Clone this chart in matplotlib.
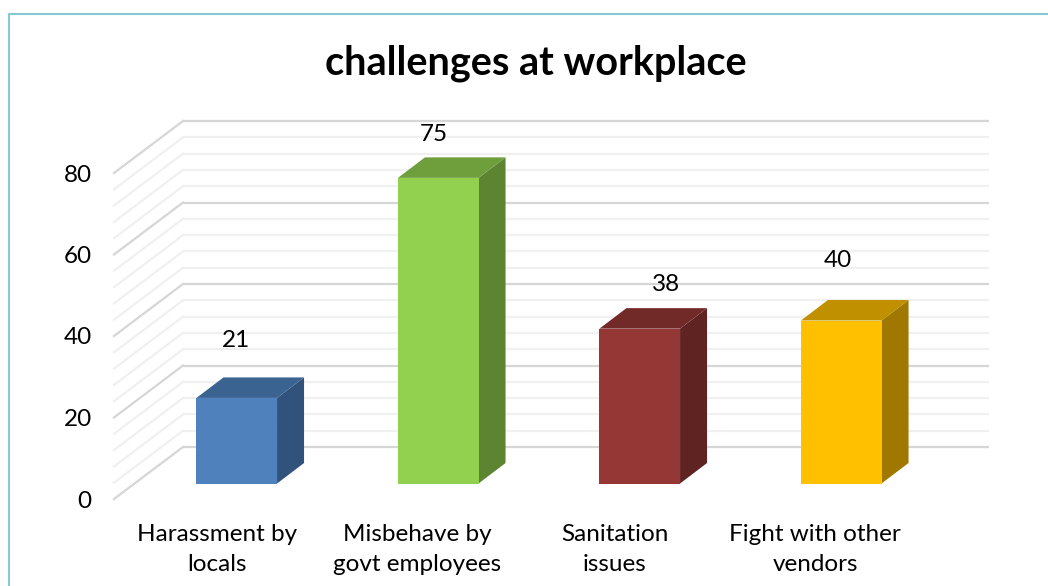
import matplotlib
matplotlib.use("Agg")
import matplotlib.pyplot as plt
from matplotlib.patches import Polygon
from matplotlib.transforms import Affine2D

categories = ["Harassment by\nlocals", "Misbehave by\ngovt employees", "Sanitation\nissues", "Fight with other\nvendors"]
values = [21, 75, 38, 40]
y_ticks = [0, 20, 40, 60, 80]
minor_step = 4
front_colors = ["#4F81BD", "#92D050", "#953735", "#FFC000"]
top_colors = ["#3B6391", "#6F9E3D", "#722A28", "#C09000"]
side_colors = ["#31527A", "#5C8431", "#5F2322", "#A07800"]

W, H, DPI = 1048, 586, 100
plt.rcParams["font.family"] = ["Lato", "DejaVu Sans"]

fig = plt.figure(figsize=(W / DPI, H / DPI), dpi=DPI, facecolor="white")

# The axes is the front plane of the 3D box, given in figure pixels.
left, right, top, bottom = 114, 920, 173, 499
ax = fig.add_axes([left / W, 1 - bottom / H, (right - left) / W, (bottom - top) / H])
ax.set_xlim(-0.5, 3.5)
ax.set_ylim(0, 80)
ax.patch.set_alpha(0)
for s in ax.spines.values():
    s.set_visible(False)

# Pixel offsets into the depth of the box.
wall_dx, wall_dy = 69, 52
bar_dx, bar_dy = 22, 15.5
depth_dx, depth_dy = 27, 20.5
bar_width = 0.4


def shifted(dx, dy):
    return ax.transData + Affine2D().translate(dx, dy)


# Floor and wall gridlines, major ones darker.
wall = shifted(wall_dx, wall_dy)
x0, x1 = ax.get_xlim()
to_px = ax.transData
for v in range(0, 81, minor_step):
    major = v in y_ticks
    color = "#D6D6D6" if major else "#F0F0F0"
    lw = 1.6
    ax.plot([x0, x1], [v, v], transform=wall, color=color, lw=lw, clip_on=False,
            solid_capstyle="butt", zorder=1)
    px0 = to_px.transform((x0, v))
    fig_line = plt.Line2D([px0[0], px0[0] + wall_dx], [px0[1], px0[1] + wall_dy],
                          transform=None, color=color, lw=lw, zorder=1)
    ax.add_artist(fig_line)
    fig_line.set_clip_on(False)

# Bars: side, top and front faces.
for i, v in enumerate(values):
    xl, xr = i - bar_width / 2, i + bar_width / 2
    front = shifted(bar_dx, bar_dy)
    (a, b) = front.transform((xl, 0)), front.transform((xr, v))
    xa, ya = a
    xb, yb = b
    ax.add_patch(Polygon([(xb, ya), (xb + depth_dx, ya + depth_dy), (xb + depth_dx, yb + depth_dy), (xb, yb)],
                         transform=None, facecolor=side_colors[i], lw=0, zorder=3, clip_on=False))
    ax.add_patch(Polygon([(xa, yb), (xb, yb), (xb + depth_dx, yb + depth_dy), (xa + depth_dx, yb + depth_dy)],
                         transform=None, facecolor=top_colors[i], lw=0, zorder=3, clip_on=False))
    ax.bar(i, v, width=bar_width, bottom=0, transform=front, color=front_colors[i],
           lw=0, zorder=4, clip_on=False)

ax.set_xlim(-0.5, 3.5)
ax.set_ylim(0, 80)

# Value labels sit well above their bars, each with its own horizontal shift.
value_shift = [(-1, 57), (-4, 43), (26, 44), (-3, 60)]
for i, v in enumerate(values):
    ax.annotate(str(v), (i, v), xytext=(bar_dx + value_shift[i][0], bar_dy + value_shift[i][1]),
                textcoords="offset pixels", ha="center", va="center", fontsize=17.5, color="black", zorder=5)

# Category names, kept as annotations so each can be nudged.
label_shift = [2, 1, -3, -4]
for i, name in enumerate(categories):
    ax.annotate(name, (i, 0), xytext=(label_shift[i], -50.5), textcoords="offset pixels",
                ha="center", va="center", fontsize=17.5, linespacing=1.52, color="black")

ax.set_xticks([])
ax.set_yticks(y_ticks)
ax.tick_params(axis="y", length=0, pad=16, labelsize=17.5, labelcolor="black")

fig.text(535.5 / W, 1 - 63 / H, "challenges at workplace", ha="center", va="center",
         fontsize=28.5, fontweight="bold", color="black")

# Chart frame: only the top and left edges fall inside the canvas.
fig.add_artist(plt.Line2D([9 / W, 9 / W, 1], [0, 1 - 14 / H, 1 - 14 / H],
                          color="#86C8D4", lw=1.5))

fig.savefig("out.png", dpi=DPI, facecolor="white")
